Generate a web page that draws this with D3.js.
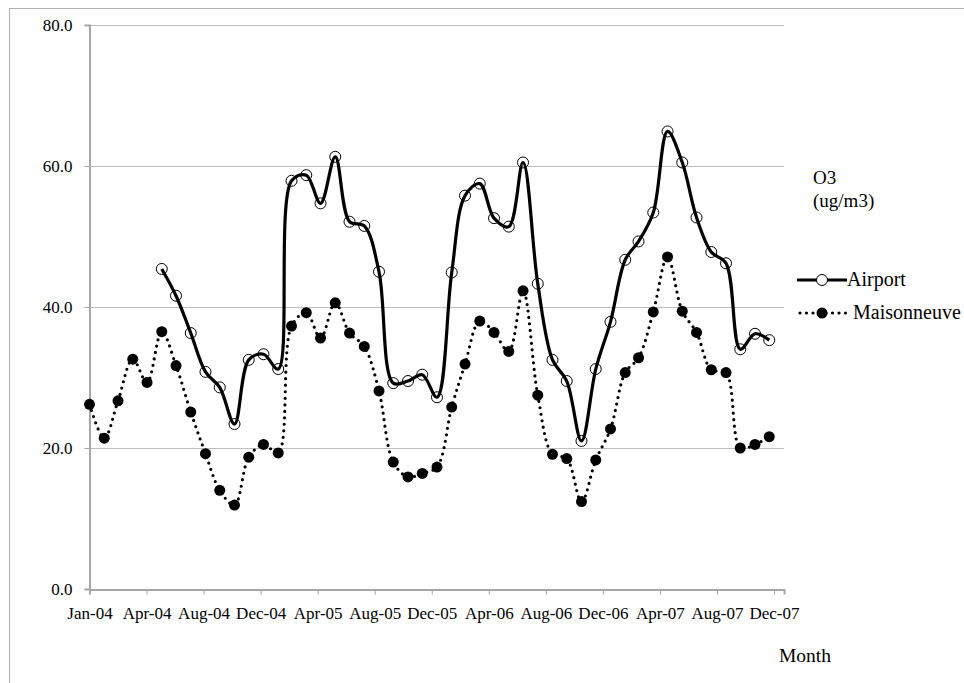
<!DOCTYPE html>
<html>
<head>
<meta charset="utf-8">
<script src="https://cdn.jsdelivr.net/npm/d3@7"></script>
<style>
  html, body { margin: 0; padding: 0; background: #fff; }
  svg { display: block; }
  svg text { font-family: "Liberation Serif", "Times New Roman", "DejaVu Serif", serif; fill: #000; }
</style>
</head>
<body>
<svg id="chart" width="964" height="683"></svg>
<script>
// Monthly O3 concentrations (ug/m3), Jan 2004 – Dec 2007
const months = d3.utcMonths(new Date(Date.UTC(2004, 0, 1)), new Date(Date.UTC(2008, 0, 1)));

const maisonneuve = [
  26.2, 21.4, 26.7, 32.6, 29.3, 36.5, 31.7, 25.1, 19.2, 14.0, 11.9, 18.7,
  20.5, 19.3, 37.3, 39.2, 35.6, 40.6, 36.3, 34.4, 28.1, 18.0, 15.9, 16.4,
  17.3, 25.8, 31.9, 38.0, 36.4, 33.7, 42.3, 27.5, 19.1, 18.5, 12.4, 18.3,
  22.7, 30.7, 32.8, 39.3, 47.1, 39.4, 36.4, 31.1, 30.7, 20.0, 20.5, 21.6
];

// Airport station reports from June 2004 onwards
const airport = [
  null, null, null, null, null, 45.4, 41.6, 36.3, 30.8, 28.6, 23.4, 32.5,
  33.3, 31.2, 57.9, 58.7, 54.7, 61.3, 52.1, 51.5, 45.0, 29.2, 29.5, 30.4,
  27.2, 44.9, 55.8, 57.5, 52.6, 51.4, 60.5, 43.3, 32.5, 29.5, 21.0, 31.2,
  37.9, 46.7, 49.3, 53.4, 64.9, 60.5, 52.7, 47.8, 46.2, 34.0, 36.2, 35.3
];

const yTicks = [0, 20, 40, 60, 80];
const xTickFormat = d3.utcFormat("%b-%y");
const SERIF = "'Liberation Serif', 'Times New Roman', 'DejaVu Serif', serif";

const svg = d3.select("#chart");

// outer frame
svg.append("rect")
  .attr("x", 9.5).attr("y", 8.5)
  .attr("width", 1000).attr("height", 1000)
  .attr("fill", "none").attr("stroke", "#b0b0b0").attr("stroke-width", 1);

const start = new Date(Date.UTC(2004, 0, 1));
const end = new Date(Date.UTC(2008, 0, 1));

const x = d3.scaleUtc().domain([start, end]).range([89.5, 784]);
const y = d3.scaleLinear().domain([0, 80]).range([589, 25]);

// x ticks every 120 days from the start date
const xTickDates = d3.range(0, 13).map(i => d3.utcDay.offset(start, i * 120));

// horizontal gridlines
svg.append("g")
  .selectAll("line")
  .data(yTicks.filter(v => v > 0))
  .join("line")
  .attr("x1", 89.5).attr("x2", 784)
  .attr("y1", d => Math.round(y(d)) + 0.5).attr("y2", d => Math.round(y(d)) + 0.5)
  .attr("stroke", "#7a7a7a").attr("stroke-width", 1)
  .attr("stroke-dasharray", "1,1");

// y axis
const yAxis = d3.axisLeft(y)
  .tickValues(yTicks)
  .tickFormat(d3.format(".1f"))
  .tickSize(5).tickPadding(12);
const gy = svg.append("g").attr("transform", "translate(89.5,0)").call(yAxis)
  .attr("font-family", SERIF).attr("font-size", 17);
gy.select(".domain").attr("stroke", "#a6a6a6").attr("stroke-width", 2);
gy.selectAll(".tick line").attr("stroke", "#a6a6a6");
gy.selectAll(".tick text").attr("fill", "#000");

// x axis
const xAxis = d3.axisBottom(x)
  .tickValues(xTickDates)
  .tickFormat(xTickFormat)
  .tickSizeOuter(0).tickSize(5).tickPadding(12);
const gx = svg.append("g").attr("transform", "translate(0,589.5)").call(xAxis)
  .attr("font-family", SERIF).attr("font-size", 17);
gx.select(".domain").attr("stroke", "#a6a6a6").attr("stroke-width", 2);
gx.selectAll(".tick line").attr("stroke", "#a6a6a6");
gx.selectAll(".tick text").attr("fill", "#000");

// series
const lineGen = d3.line()
  .defined(d => d.v != null)
  .x(d => x(d.date))
  .y(d => y(d.v))
  .curve(d3.curveCatmullRom.alpha(0.5));

const mData = months.map((d, i) => ({ date: d, v: maisonneuve[i] }));
const aData = months.map((d, i) => ({ date: d, v: airport[i] })).filter(d => d.v != null);

svg.append("path")
  .datum(mData)
  .attr("d", lineGen)
  .attr("fill", "none").attr("stroke", "#000").attr("stroke-width", 3.2)
  .attr("stroke-linecap", "round").attr("stroke-dasharray", "0,6.5");

svg.append("g").selectAll("circle")
  .data(mData)
  .join("circle")
  .attr("cx", d => x(d.date)).attr("cy", d => y(d.v))
  .attr("r", 5.5).attr("fill", "#000");

svg.append("path")
  .datum(aData)
  .attr("d", lineGen)
  .attr("fill", "none").attr("stroke", "#000").attr("stroke-width", 3.2)
  .attr("stroke-linejoin", "round");

svg.append("g").selectAll("circle")
  .data(aData)
  .join("circle")
  .attr("cx", d => x(d.date)).attr("cy", d => y(d.v))
  .attr("r", 5.5).attr("fill", "none").attr("stroke", "#000").attr("stroke-width", 1);

// axis titles
svg.append("text").attr("x", 813).attr("y", 184).style("font-size", "19px").text("O3");
svg.append("text").attr("x", 813).attr("y", 207).style("font-size", "19px").text("(ug/m3)");
svg.append("text").attr("x", 779).attr("y", 662).style("font-size", "19.5px").text("Month");

// legend
const legend = svg.append("g");
legend.append("line")
  .attr("x1", 797).attr("x2", 847).attr("y1", 280).attr("y2", 280)
  .attr("stroke", "#000").attr("stroke-width", 3.2);
legend.append("circle")
  .attr("cx", 822).attr("cy", 280).attr("r", 5.5)
  .attr("fill", "#fff").attr("stroke", "#000").attr("stroke-width", 1);
legend.append("text").attr("x", 847).attr("y", 286).style("font-size", "20px").text("Airport");

legend.append("line")
  .attr("x1", 800).attr("x2", 848).attr("y1", 313).attr("y2", 313)
  .attr("stroke", "#000").attr("stroke-width", 3.2)
  .attr("stroke-linecap", "round").attr("stroke-dasharray", "0,6.5");
legend.append("circle")
  .attr("cx", 822).attr("cy", 313).attr("r", 5.5).attr("fill", "#000");
legend.append("text").attr("x", 853).attr("y", 319).style("font-size", "20px").text("Maisonneuve");
</script>
</body>
</html>
